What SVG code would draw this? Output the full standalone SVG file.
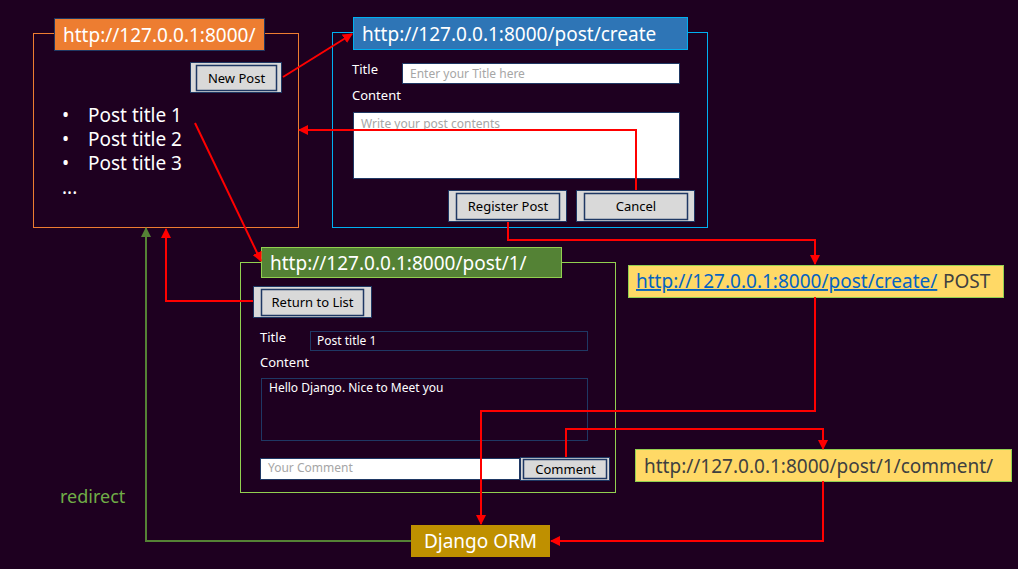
<svg xmlns="http://www.w3.org/2000/svg" width="1018" height="569" viewBox="0 0 1018 569">
<defs>
<marker id="ar" viewBox="0 0 10 10" refX="9" refY="5" markerWidth="5" markerHeight="5" orient="auto"><path d="M0,0 L10,5 L0,10 z" fill="#ff0000"/></marker>
<marker id="ag" viewBox="0 0 10 10" refX="9" refY="5" markerWidth="5" markerHeight="5" orient="auto"><path d="M0,0 L10,5 L0,10 z" fill="#548235"/></marker>
<style>
text{font-family:"Noto Sans","Open Sans",sans-serif;}
.hdr{font-size:19px;fill:#ffffff;}
.lbl{font-size:13px;fill:#ffffff;}
.ph{font-size:12px;fill:#a6a6a6;}
.btnO{fill:#d9d9d9;stroke:#1f3864;stroke-width:1;}
.btnI{fill:#d9d9d9;stroke:#1f3864;stroke-width:1.5;}
.btxt{font-size:13px;fill:#000000;text-anchor:middle;}
.inp{fill:#ffffff;stroke:#1f3864;stroke-width:1;}
.dinp{fill:none;stroke:#1f3864;stroke-width:1;}
.big{font-size:19px;fill:#ffffff;}
.red{fill:none;stroke:#ff0000;stroke-width:2;marker-end:url(#ar);}
</style>
</defs>
<rect x="0" y="0" width="1018" height="569" fill="#1e0020"/>

<g id="page-list">
<rect x="33.5" y="33.5" width="265" height="194" fill="none" stroke="#ed7d31" stroke-width="1"/>
<rect x="54.5" y="18.5" width="210" height="32" fill="#ed7d31" stroke="#1f3864" stroke-width="1"/>
<text class="hdr" x="63" y="42">http://127.0.0.1:8000/</text>
<rect class="btnO" x="190.5" y="62.5" width="91" height="30"/>
<rect class="btnI" x="196.5" y="65.5" width="80" height="25"/>
<text class="btxt" x="236.5" y="83">New Post</text>
<text class="big" x="62" y="122">•</text><text class="big" x="88" y="122">Post title 1</text>
<text class="big" x="62" y="146">•</text><text class="big" x="88" y="146">Post title 2</text>
<text class="big" x="62" y="170">•</text><text class="big" x="88" y="170">Post title 3</text>
<text class="big" x="62" y="194">...</text>
</g>

<g id="page-create">
<rect x="332.5" y="32.5" width="375" height="195" fill="none" stroke="#00b0f0" stroke-width="1"/>
<rect x="353.5" y="17.5" width="334" height="32" fill="#2e75b6" stroke="#00b0f0" stroke-width="1"/>
<text class="hdr" x="362" y="41">http://127.0.0.1:8000/post/create</text>
<text class="lbl" x="352" y="74">Title</text>
<rect class="inp" x="402.5" y="63.5" width="277" height="20"/>
<text class="ph" x="410" y="78">Enter your Title here</text>
<text class="lbl" x="352" y="100">Content</text>
<rect class="inp" x="353.5" y="112.5" width="326" height="66"/>
<text class="ph" x="361" y="128">Write your post contents</text>
<rect class="btnO" x="448.5" y="190.5" width="118" height="31"/>
<rect class="btnI" x="456.5" y="193.5" width="103" height="26"/>
<text class="btxt" x="508" y="211">Register Post</text>
<rect class="btnO" x="576.5" y="190.5" width="118" height="31"/>
<rect class="btnI" x="584.5" y="193.5" width="103" height="26"/>
<text class="btxt" x="636" y="211">Cancel</text>
</g>

<g id="page-detail">
<rect x="240.5" y="262.5" width="375" height="230" fill="none" stroke="#92d050" stroke-width="1"/>
<rect x="261.5" y="247.5" width="300" height="30" fill="#548235" stroke="#92d050" stroke-width="1"/>
<text class="hdr" x="270" y="270">http://127.0.0.1:8000/post/1/</text>
<rect class="btnO" x="253.5" y="286.5" width="118" height="31"/>
<rect class="btnI" x="261.5" y="289.5" width="102" height="26"/>
<text class="btxt" x="312.5" y="307">Return to List</text>
<text class="lbl" x="260" y="342">Title</text>
<rect class="dinp" x="310.5" y="331.5" width="277" height="19"/>
<text class="lbl" x="317" y="345" style="font-size:12px">Post title 1</text>
<text class="lbl" x="260" y="367">Content</text>
<rect class="dinp" x="261.5" y="378.5" width="326" height="62"/>
<text class="lbl" x="269" y="392" style="font-size:12px">Hello Django. Nice to Meet you</text>
<rect class="inp" x="260.5" y="458.5" width="259" height="21"/>
<text class="ph" x="268" y="472">Your Comment</text>
<rect class="btnO" x="520.5" y="457.5" width="89" height="23"/>
<rect class="btnI" x="523.5" y="459.5" width="83" height="19"/>
<text class="btxt" x="565.5" y="474">Comment</text>
</g>

<g id="post-create-url">
<rect x="628.5" y="265.5" width="375" height="32" fill="#ffd966" stroke="#92d050" stroke-width="1"/>
<text x="636" y="288" style="font-size:19px;fill:#0563c1;text-decoration:underline">http://127.0.0.1:8000/post/create/</text>
<text x="943" y="288" style="font-size:19px;fill:#404040">POST</text>
</g>

<g id="comment-url">
<rect x="635.5" y="449.5" width="376" height="32" fill="#ffd966" stroke="#92d050" stroke-width="1"/>
<text x="644" y="473" style="font-size:19px;fill:#404040">http://127.0.0.1:8000/post/1/comment/</text>
</g>

<g id="django-orm">
<rect x="411" y="525" width="139" height="32" fill="#bf9000"/>
<text x="480.5" y="548" style="font-size:19px;fill:#ffffff;text-anchor:middle">Django ORM</text>
</g>

<text x="60" y="503" style="font-size:18px;fill:#70ad47">redirect</text>

<g id="connectors">
<path class="red" d="M283,77 L352,34"/>
<path class="red" d="M636,190 L636,130 L299,130"/>
<path class="red" d="M195,123 L261,261"/>
<path class="red" d="M253,301 L166,301 L166,229"/>
<path class="red" d="M508,222 L508,240 L815,240 L815,264"/>
<path class="red" d="M815,297 L815,411 L481,411 L481,524"/>
<path class="red" d="M566,457 L566,429 L823,429 L823,449"/>
<path class="red" d="M823,481 L823,541 L551,541"/>
<path d="M411,541 L146,541 L146,228" fill="none" stroke="#548235" stroke-width="2" marker-end="url(#ag)"/>
</g>
</svg>
